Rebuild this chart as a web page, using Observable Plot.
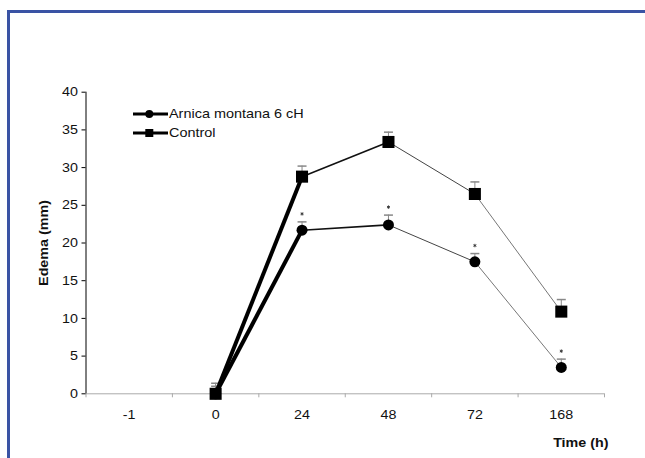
<!DOCTYPE html>
<html><head><meta charset="utf-8">
<script src="https://cdn.jsdelivr.net/npm/d3@7"></script>
<script src="https://cdn.jsdelivr.net/npm/@observablehq/plot@0.6"></script>
<style>
html,body{margin:0;padding:0;background:#fff;}
#wrap{position:relative;width:645px;height:458px;overflow:hidden;font-family:"Liberation Sans",Arial,sans-serif;}
#border{position:absolute;left:7px;top:10px;right:-10px;bottom:-10px;border-left:3px solid #3a53a4;border-top:3px solid #3a53a4;}
#chart{position:absolute;left:0;top:0;}
#legend{position:absolute;left:132.7px;top:104.6px;font-size:13px;color:#111;}
.row{display:flex;align-items:center;height:18.7px;}
.row svg{margin-right:1.5px;}
.row span{display:inline-block;transform:scaleX(1.11);transform-origin:left center;white-space:nowrap;}
</style></head><body>
<div id="wrap"><div id="border"></div><div id="chart"></div><div id="legend"></div></div>
<script>
// categories on the x axis
const categories = ["-1", "0", "24", "48", "72", "168"];
// time points with data
const times = ["0", "24", "48", "72", "168"];
// series values (mm)
const arnicaValues = [0, 21.7, 22.4, 17.5, 3.5];
const arnicaErr = [1.4, 1.1, 1.3, 1.1, 1.1];
const controlValues = [0, 28.8, 33.4, 26.5, 10.9];
const controlErr = [1.0, 1.4, 1.3, 1.6, 1.6];
// significance markers (Arnica vs control)
const significant = [false, true, true, true, true];
// y tick labels
const yTicks = [0, 5, 10, 15, 20, 25, 30, 35, 40];
// series names
const seriesNames = ["Arnica montana 6 cH", "Control"];

// segment styles (rendering of the original)
const segWidth = [4, 1.6, 1, 1];
const segColor = ["#000", "#111", "#444", "#777"];
const textStretch = 1.1;

const xIndex = t => categories.indexOf(t);
const makePts = (name, vals, errs) => times.map((t, i) => ({series: name, x: xIndex(t), y: vals[i], err: errs[i], i}));
const arnicaPts = makePts(seriesNames[0], arnicaValues, arnicaErr);
const controlPts = makePts(seriesNames[1], controlValues, controlErr);
const allPts = arnicaPts.concat(controlPts);
const segs = [];
for (const pts of [arnicaPts, controlPts]) {
  for (let i = 1; i < pts.length; i++) {
    segs.push({x1: pts[i-1].x, y1: pts[i-1].y, x2: pts[i].x, y2: pts[i].y, w: segWidth[i-1], c: segColor[i-1]});
  }
}
const capSymbol = {draw(ctx, size) { const r = Math.sqrt(size / Math.PI); ctx.moveTo(-r, 0); ctx.lineTo(r, 0); }};
const xDomain = [-0.5, categories.length - 0.5];
const yDomain = [0, 40];

const chart = Plot.plot({
  width: 645, height: 458,
  marginLeft: 85.5, marginRight: 41, marginTop: 91.7, marginBottom: 64.7,
  style: {fontFamily: "Liberation Sans, Arial, sans-serif", fontSize: "13px", color: "#111", background: "transparent", overflow: "visible"},
  x: {type: "linear", domain: xDomain},
  y: {domain: yDomain},
  marks: [
    Plot.ruleY([yDomain[0]], {stroke: "#aaa"}),
    Plot.axisX({ticks: d3.range(categories.length + 1).map(i => i - 0.5), tickSize: 4, tickFormat: () => "", stroke: "#aaa", label: null}),
    Plot.axisX({ticks: d3.range(categories.length), tickSize: 0, tickPadding: 16, tickFormat: i => categories[i], label: null, fill: "#111"}),
    Plot.axisY({ticks: yTicks, tickSize: 4, tickPadding: 4, label: null, stroke: "#000", fill: "#111"}),
    Plot.ruleX([xDomain[0]], {y1: yDomain[0], y2: yDomain[1], stroke: "#000"}),
    Plot.ruleX(allPts, {x: "x", y1: "y", y2: d => d.y + d.err, stroke: "#888"}),
    Plot.dot(allPts, {x: "x", y: d => d.y + d.err, symbol: capSymbol, r: 4.5, stroke: "#888", fill: "none"}),
    Plot.link(segs, {x1: "x1", y1: "y1", x2: "x2", y2: "y2", strokeWidth: "w", stroke: "c"}),
    Plot.dot(arnicaPts, {x: "x", y: "y", symbol: "circle", r: 5.5, fill: "#000"}),
    Plot.dot(controlPts, {x: "x", y: "y", symbol: "square", r: 6.8, fill: "#000"}),
    Plot.dot(arnicaPts.filter(d => significant[d.i]), {x: "x", y: d => d.y + d.err, dy: -8, symbol: "asterisk", r: 1.6, stroke: "#333", strokeWidth: 0.9}),
    Plot.text(["Edema (mm)"], {frameAnchor: "left", dx: -42, rotate: -90, textAnchor: "middle", lineAnchor: "middle", fontWeight: "bold", fontSize: 13, fill: "#111"}),
    Plot.text(["Time (h)"], {frameAnchor: "bottom-right", textAnchor: "end", lineAnchor: "middle", dx: 4, dy: 49, fontWeight: "bold", fontSize: 13, fill: "#111"})
  ]
});
document.getElementById("chart").appendChild(chart);

// widen glyphs slightly, as in the reference rendering
chart.querySelectorAll("text").forEach(t => {
  const s = t.textContent;
  if (!s) return;
  const len = t.getComputedTextLength();
  if (len > 0) {
    t.setAttribute("textLength", (len * textStretch).toFixed(2));
    t.setAttribute("lengthAdjust", "spacingAndGlyphs");
  }
});

// legend
const legend = document.getElementById("legend");
seriesNames.forEach((name, k) => {
  const row = document.createElement("div");
  row.className = "row";
  const marker = k === 0
    ? '<circle cx="16.3" cy="7" r="4" fill="#000"/>'
    : '<rect x="12.3" y="3" width="8" height="8" fill="#000"/>';
  row.innerHTML = '<svg width="35" height="14"><line x1="0" y1="7" x2="35" y2="7" stroke="#000" stroke-width="3"/>' + marker + '</svg><span>' + name + '</span>';
  legend.appendChild(row);
});
</script>
</body></html>
